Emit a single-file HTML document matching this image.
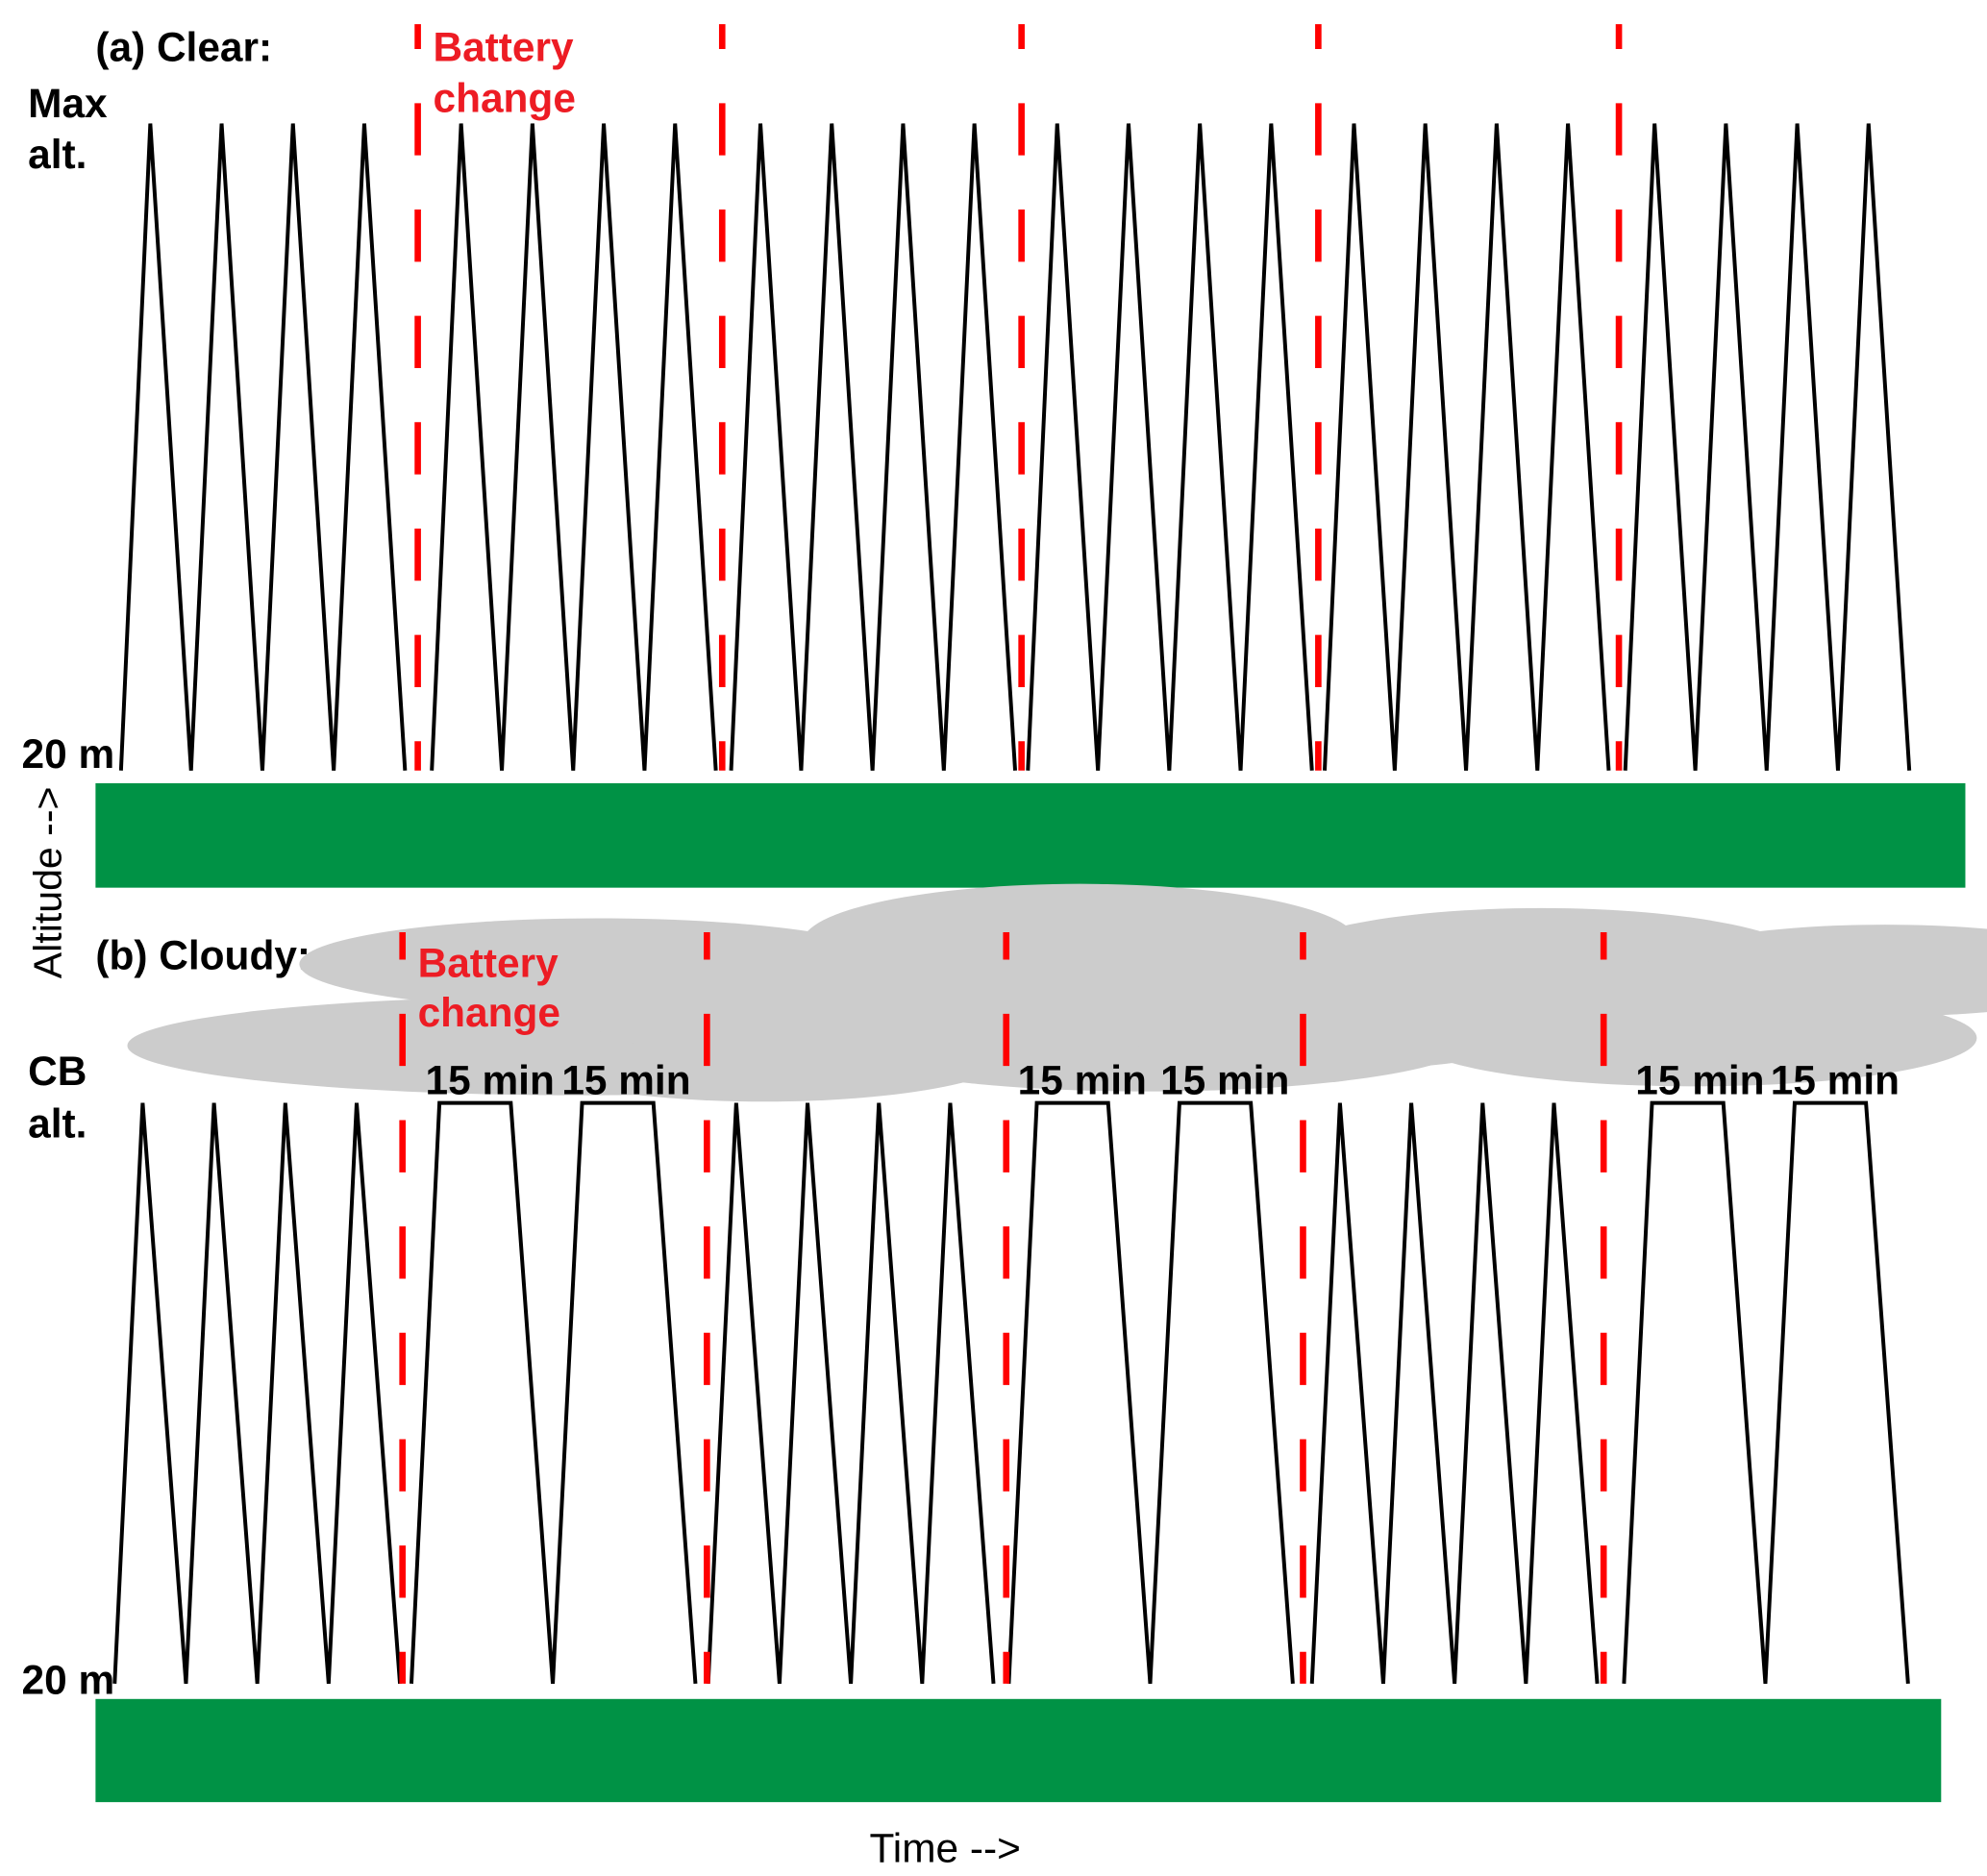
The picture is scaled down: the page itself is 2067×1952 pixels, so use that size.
<!DOCTYPE html>
<html><head><meta charset="utf-8"><style>html,body{margin:0;padding:0;background:#fff}svg{display:block}</style></head>
<body>
<svg width="2067" height="1952" viewBox="0 0 1560 1473" preserveAspectRatio="none" xmlns="http://www.w3.org/2000/svg" font-family="Liberation Sans, Arial, sans-serif">
<rect width="1560" height="1473" fill="#fff"/>
<!-- Panel a -->
<text x="75" y="48" font-size="32" font-weight="bold">(a) Clear:</text>
<text x="22" y="92" font-size="32" font-weight="bold">Max</text>
<text x="22" y="132" font-size="32" font-weight="bold">alt.</text>
<text x="17" y="603" font-size="32" font-weight="bold">20 m</text>
<text x="340" y="48" font-size="32" font-weight="bold" fill="#ed1c24">Battery</text>
<text x="340" y="88" font-size="32" font-weight="bold" fill="#ed1c24">change</text>
<g fill="none" stroke="#000" stroke-width="3" stroke-linejoin="miter">
<polyline points="95,605 118,97 150,605 174,97 206,605 230,97 262,605 286,97 318,605"/>
<polyline points="339,605 362,97 394,605 418,97 450,605 474,97 506,605 530,97 562,605"/>
<polyline points="574,605 597,97 629,605 653,97 685,605 709,97 741,605 765,97 797,605"/>
<polyline points="807,605 830,97 862,605 886,97 918,605 942,97 974,605 998,97 1030,605"/>
<polyline points="1040,605 1063,97 1095,605 1119,97 1151,605 1175,97 1207,605 1231,97 1263,605"/>
<polyline points="1276,605 1299,97 1331,605 1355,97 1387,605 1411,97 1443,605 1467,97 1499,605"/>
</g>
<g stroke="#ff0000" stroke-width="5" stroke-dasharray="41 42.5" stroke-dashoffset="21.5">
<line x1="328" y1="19" x2="328" y2="605"/>
<line x1="567" y1="19" x2="567" y2="605"/>
<line x1="802" y1="19" x2="802" y2="605"/>
<line x1="1035" y1="19" x2="1035" y2="605"/>
<line x1="1271" y1="19" x2="1271" y2="605"/>
</g>
<rect x="75" y="615" width="1468" height="82" fill="#009245"/>
<!-- Panel b -->
<text x="75" y="761" font-size="32" font-weight="bold">(b) Cloudy:</text>
<g fill="#cccccc">
<ellipse cx="455" cy="821" rx="355" ry="39"/>
<ellipse cx="470" cy="757" rx="235" ry="36"/>
<ellipse cx="848" cy="740" rx="218" ry="46"/>
<ellipse cx="600" cy="825" rx="200" ry="40"/>
<ellipse cx="900" cy="815" rx="260" ry="42"/>
<ellipse cx="700" cy="790" rx="250" ry="50"/>
<ellipse cx="1210" cy="757" rx="212" ry="44"/>
<ellipse cx="1480" cy="762" rx="190" ry="36"/>
<ellipse cx="1330" cy="815" rx="222" ry="38"/>
<ellipse cx="1050" cy="790" rx="200" ry="50"/>
</g>
<text x="328" y="767" font-size="32" font-weight="bold" fill="#ed1c24">Battery</text>
<text x="328" y="806" font-size="32" font-weight="bold" fill="#ed1c24">change</text>
<text x="22" y="852" font-size="32" font-weight="bold">CB</text>
<text x="22" y="893" font-size="32" font-weight="bold">alt.</text>
<text x="17" y="1330" font-size="32" font-weight="bold">20 m</text>
<g font-size="32" font-weight="bold">
<text x="334" y="859">15 min</text><text x="441" y="859">15 min</text>
<text x="799" y="859">15 min</text><text x="911" y="859">15 min</text>
<text x="1284" y="859">15 min</text><text x="1390" y="859">15 min</text>
</g>
<g fill="none" stroke="#000" stroke-width="3">
<polyline points="90,1322 112,866 146,1322 168,866 202,1322 224,866 258,1322 280,866 314,1322"/>
<polyline points="556,1322 578,866 612,1322 634,866 668,1322 690,866 724,1322 746,866 780,1322"/>
<polyline points="1030,1322 1052,866 1086,1322 1108,866 1142,1322 1164,866 1198,1322 1220,866 1254,1322"/>
<polyline points="323,1322 345,866 401,866 434,1322 457,866 513,866 546,1322"/>
<polyline points="792,1322 814,866 870,866 903,1322 926,866 982,866 1015,1322"/>
<polyline points="1275,1322 1297,866 1353,866 1386,1322 1409,866 1465,866 1498,1322"/>
</g>
<g stroke="#ff0000" stroke-width="5" stroke-dasharray="41 42.5" stroke-dashoffset="19.5">
<line x1="316" y1="732" x2="316" y2="1322"/>
<line x1="555" y1="732" x2="555" y2="1322"/>
<line x1="790" y1="732" x2="790" y2="1322"/>
<line x1="1023" y1="732" x2="1023" y2="1322"/>
<line x1="1259" y1="732" x2="1259" y2="1322"/>
</g>
<rect x="75" y="1334" width="1449" height="81" fill="#009245"/>
<text x="742" y="1462" font-size="32" text-anchor="middle">Time --&gt;</text>
<text transform="translate(48,693) rotate(-90)" font-size="31" text-anchor="middle">Altitude --&gt;</text>
</svg>
</body></html>
